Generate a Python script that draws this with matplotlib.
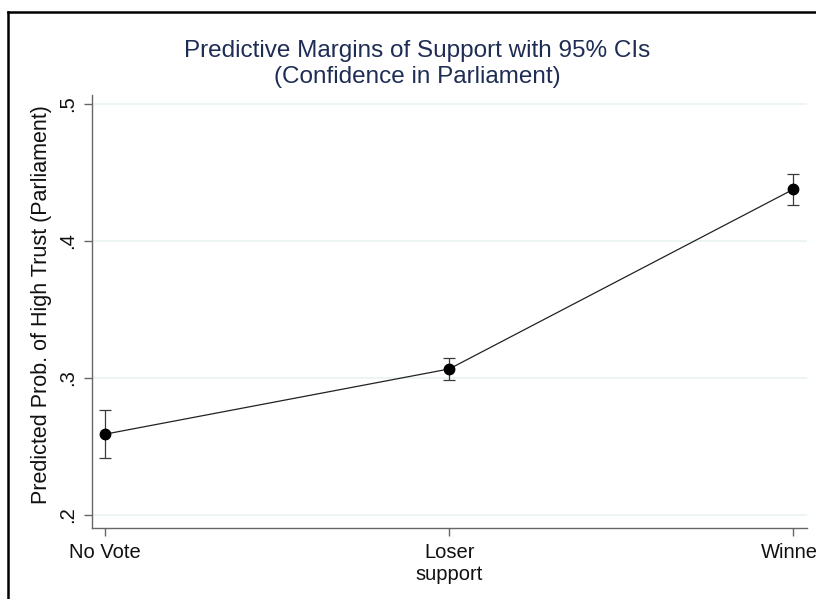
import numpy as np
import matplotlib
matplotlib.use("Agg")
import matplotlib.pyplot as plt
from matplotlib.lines import Line2D

plt.rcParams['font.family'] = ['Liberation Sans', 'DejaVu Sans']

# predictive margins
categories = ['No Vote', 'Loser', 'Winner']
margins = [0.259, 0.3066, 0.4377]
ci_low = [0.2416, 0.2985, 0.4263]
ci_high = [0.2766, 0.3146, 0.4490]
yticks = [0.2, 0.3, 0.4, 0.5]
ytick_labels = ['.2', '.3', '.4', '.5']

W, H = 816, 599
fig = plt.figure(figsize=(W / 100, H / 100), dpi=100)
fig.patch.set_facecolor('white')

# axes box in pixels: left 92, right 807, top 95, bottom 528
ax = fig.add_axes([92 / W, 1 - 528 / H, (807 - 92) / W, (528 - 95) / H])

x = np.arange(len(categories))
m = np.array(margins)
err = [m - np.array(ci_low), np.array(ci_high) - m]

ax.errorbar(x, m, yerr=err, fmt='none', ecolor='#3a3a3a', elinewidth=0.9,
            capsize=4, capthick=0.9, zorder=3)
ax.plot(x, m, color='#222222', lw=0.9, zorder=2)
ax.plot(x, m, 'o', color='black', ms=7.5, zorder=4)

ax.set_xlim(-0.038, 2.04)
ax.set_ylim(0.1905, 0.5066)

ax.set_yticks(yticks)
ax.set_yticklabels(ytick_labels)
ax.set_xticks(x)
ax.set_xticklabels(['No Vote', 'Loser', 'Winner'])

for yv in yticks:
    ax.axhline(yv, color='#edf4f4', lw=1.4, zorder=0)

for s in ['top', 'right']:
    ax.spines[s].set_visible(False)
for s in ['left', 'bottom']:
    ax.spines[s].set_color('#666666')
    ax.spines[s].set_linewidth(1.0)

ax.tick_params(axis='both', colors='#666666', length=6, width=1.0,
               labelsize=14.5, labelcolor='#111111')
ax.tick_params(axis='y', pad=5)
ax.tick_params(axis='x', pad=5)
for lab in ax.get_yticklabels():
    lab.set_rotation(90)
    lab.set_va('center')

ax.set_xlabel('support', fontsize=14.5, color='#111111', labelpad=2)

fig.text(42 / W, 1 - 305 / H, 'Predicted Prob. of High Trust (Parliament)',
         rotation=90, ha='center', va='center', fontsize=15.5, color='#111111')

title_color = '#1f2d55'
fig.text(417.5 / W, 1 - 57 / H, 'Predictive Margins of Support with 95% CIs',
         ha='center', va='baseline', fontsize=17.5, color=title_color)
fig.text(417.5 / W, 1 - 83 / H, '(Confidence in Parliament)',
         ha='center', va='baseline', fontsize=17.5, color=title_color)

# outer frame visible at left and top edges
fig.add_artist(Line2D([8 / W, 8 / W], [0, 1 - 12 / H], transform=fig.transFigure,
                      color='black', lw=1.8))
fig.add_artist(Line2D([8 / W, 1], [1 - 12 / H, 1 - 12 / H], transform=fig.transFigure,
                      color='black', lw=1.8))

fig.savefig('out.png', dpi=100)
